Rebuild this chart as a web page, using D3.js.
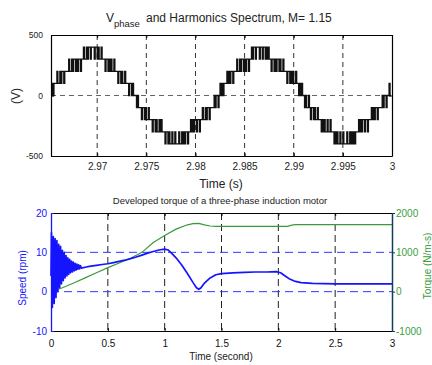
<!DOCTYPE html>
<html><head><meta charset="utf-8">
<script src="https://cdn.jsdelivr.net/npm/d3@7"></script>
<style>
html,body{margin:0;padding:0;background:#fff;}
svg{display:block;font-family:"Liberation Sans",Arial,Helvetica,sans-serif;}
</style></head><body>
<svg id="c" width="432" height="365"></svg>
<script>
// ---------- DATA ----------
// Top chart: phase voltage samples (levels x100 V), uniform sampling from vStart with step vStep
const vStart = 2.9653, vStep = 0.0001;
const vLevels = [
 0,1,0,1,1,
 1,2,1,1,2,1,2,2,1,2,2,
 2,2,3,2,2,3,2,3,3,2,3,2,3,3,2,3,
 3,4,3,3,4,3,4,4,3,4,4,4,3,4,4,3,4,3,3,4,3,
 3,3,2,3,3,2,3,2,3,2,2,3,2,2,
 2,1,2,2,1,2,1,1,2,1,1,
 1,0,1,1,0,1,0,0,
 0,-1,0,-1,-1,
 -1,-2,-1,-1,-2,-1,-2,-2,-1,-2,-2,
 -2,-3,-2,-2,-3,-2,-3,-3,-2,-3,-2,-3,-3,
 -3,-4,-3,-3,-4,-3,-4,-4,-3,-4,-4,-3,-4,-4,-4,-3,-4,-4,-3,-4,-3,-4,-3,-3,-4,
 -3,-3,-2,-3,-2,-3,-2,-2,-3,-2,-2,-3,-2,
 -2,-1,-2,-2,-1,-2,-1,-1,-2,-1,-1,-1,
 -1,0,-1,0,0,-1,
 0,1,0,1,0,1,1,
 1,2,1,2,1,2,2,1,2,2,
 2,3,2,2,3,2,3,3,2,3,2,3,3,2,3,
 3,4,3,4,4,3,4,4,4,3,4,4,3,4,4,3,4,3,4,3,
 3,2,3,3,2,3,2,3,3,2,3,2,2,3,2,2,
 2,1,2,2,1,2,1,2,1,1,2,1,
 1,0,1,0,1,0,
 0,-1,0,-1,-1,0,
 -1,-2,-1,-1,-2,-1,-2,-2,-1,-2,-2,
 -2,-3,-2,-3,-2,-3,-3,-2,-3,-3,-2,-3,-3,
 -3,-4,-3,-4,-3,-4,-4,-3,-4,-4,-3,-4,-4,-4,-3,-4,-4,-3,-4,-3,-4,-3,-4,-3,-3,
 -3,-2,-3,-2,-3,-2,-2,-3,-2,-2,-3,-2,-2,
 -2,-1,-2,-1,-2,-1,-1,-2,-1,-1,-1,
 -1,0,-1,0,0,-1,0,0,1,0,0
];
const topXTicks = [2.97, 2.975, 2.98, 2.985, 2.99, 2.995, 3];
const topYTicks = [-500, 0, 500];

// Bottom chart
const speedT = [0,0.004,0.012,0.020,0.028,0.036,0.044,0.052,0.060,0.068,0.076,0.084,0.092,0.100,0.108,0.116,0.124,0.132,0.140,0.148,0.156,0.164,0.172,0.180,0.188,0.196,0.204,0.212,0.220,0.228,0.236,0.244,0.252,0.260,0.268,
 0.30,0.35,0.40,0.45,0.50,0.55,0.60,0.65,0.70,0.75,0.80,0.85,0.90,0.95,1.00,1.03,1.06,1.10,1.15,1.20,1.25,1.28,1.30,1.32,1.35,1.40,1.45,1.50,1.60,1.70,1.80,1.90,1.98,2.02,2.06,2.10,2.15,2.20,2.30,2.50,2.75,3.00];
const speedV = [4,15,-4,14,-3,13.5,-1.5,13,0,12,1,11.5,2,10.5,2.8,10,3.5,9.2,4,8.6,4.4,8.2,4.8,7.8,5,7.5,5.3,7.2,5.5,7,5.7,6.8,5.8,6.6,6,
 6.2,6.5,6.7,6.9,7.1,7.4,7.7,8.0,8.4,8.8,9.3,9.8,10.2,10.6,10.8,10.6,9.8,8.6,6.8,4.6,2.3,1.0,0.6,1.0,2.2,3.5,4.3,4.6,4.8,4.9,5.0,5.0,5.1,4.8,4.0,3.2,2.6,2.3,2.1,2.0,2.0,2.0];
const torqueT = [0,0.1,0.2,0.3,0.4,0.5,0.6,0.7,0.8,0.9,1.0,1.1,1.2,1.25,1.3,1.35,1.4,1.45,1.5,2.08,2.12,2.15,3.0];
const torqueV = [0,100,220,350,480,610,730,850,1000,1250,1430,1590,1700,1730,1735,1700,1670,1660,1660,1660,1690,1705,1705];
const botXTicks = [0,0.5,1,1.5,2,2.5,3];
const speedTicks = [-10,0,10,20];
const torqueTicks = [-1000,0,1000,2000];

// ---------- DRAW ----------
const svg = d3.select("#c");
const FONT = "'Liberation Sans',Arial,Helvetica,sans-serif";

// ===== Top chart =====
const L = 51, R = 392, T1 = 35, B1 = 156;
const xT = d3.scaleLinear().domain([2.9653, 3.0]).range([L, R]);
const yT = d3.scaleLinear().domain([-500, 500]).range([B1, T1]);

const gTop = svg.append("g");
gTop.selectAll(".vg").data(topXTicks.filter(d => d < 3)).enter().append("line")
  .attr("x1", d => xT(d)).attr("x2", d => xT(d)).attr("y1", T1).attr("y2", B1)
  .attr("stroke", "#333").attr("stroke-width", 1).attr("stroke-dasharray", "5,4");
gTop.append("line").attr("x1", L).attr("x2", R).attr("y1", yT(0)).attr("y2", yT(0))
  .attr("stroke", "#666").attr("stroke-width", 1).attr("stroke-dasharray", "5,4");

const vData = vLevels.map((v, i) => [vStart + i * vStep, v * 100]);
gTop.append("path").datum(vData)
  .attr("d", d3.line().curve(d3.curveStepAfter).x(d => xT(d[0])).y(d => yT(d[1])))
  .attr("fill", "none").attr("stroke", "#111").attr("stroke-width", 1.3);

const axTB = gTop.append("g").attr("transform", `translate(0,${B1})`)
  .call(d3.axisBottom(xT).tickValues(topXTicks).tickFormat(d3.format("")).tickSizeInner(-3).tickSizeOuter(0).tickPadding(7));
const axTT = gTop.append("g").attr("transform", `translate(0,${T1})`)
  .call(d3.axisTop(xT).tickValues(topXTicks).tickFormat("").tickSizeInner(-3).tickSizeOuter(0));
const axTL = gTop.append("g").attr("transform", `translate(${L},0)`)
  .call(d3.axisLeft(yT).tickValues(topYTicks).tickSizeInner(-3).tickSizeOuter(0).tickPadding(8));
const axTR = gTop.append("g").attr("transform", `translate(${R},0)`)
  .call(d3.axisRight(yT).tickValues(topYTicks).tickFormat("").tickSizeInner(-3).tickSizeOuter(0));
[axTB, axTT, axTL, axTR].forEach(a => {
  a.select(".domain").attr("stroke", "#000").attr("stroke-width", 1.2);
  a.selectAll(".tick line").attr("stroke", "#000");
  a.selectAll("text").attr("fill", "#222").style("font-family", FONT);
});
axTB.selectAll("text").style("font-size", "10px");
axTL.selectAll("text").style("font-size", "8.5px").text(d => String(d));

const tt = svg.append("text").attr("x", 106).attr("y", 22).style("font-family", FONT).style("font-size", "12px").attr("fill", "#222");
tt.append("tspan").text("V");
tt.append("tspan").attr("dy", 5).style("font-size", "9.5px").text("phase");
tt.append("tspan").attr("x", 146).attr("dy", -5).text("and Harmonics Spectrum, M= 1.15");
svg.append("text").attr("x", 221).attr("y", 188).attr("text-anchor", "middle")
  .style("font-family", FONT).style("font-size", "12px").attr("fill", "#222").text("Time (s)");
svg.append("text").attr("transform", "translate(20,96) rotate(-90)").attr("text-anchor", "middle")
  .style("font-family", FONT).style("font-size", "12px").attr("fill", "#222").text("(V)");

// ===== Bottom chart =====
const T2 = 213, B2 = 331;
const xB = d3.scaleLinear().domain([0, 3]).range([L, R]);
const yS = d3.scaleLinear().domain([-10, 20]).range([B2, T2]);
const yQ = d3.scaleLinear().domain([-1000, 2000]).range([B2, T2]);
const BLUE = "#1414ff", GREEN = "#3a9a3a", GREENT = "#3aa03a";

const gBot = svg.append("g");
gBot.selectAll(".vg2").data(botXTicks.filter(d => d > 0 && d < 3)).enter().append("line")
  .attr("x1", d => xB(d)).attr("x2", d => xB(d)).attr("y1", T2).attr("y2", B2)
  .attr("stroke", "#222").attr("stroke-width", 1).attr("stroke-dasharray", "7,4");
gBot.selectAll(".hg2").data([0, 10]).enter().append("line")
  .attr("x1", L).attr("x2", R).attr("y1", d => yS(d)).attr("y2", d => yS(d))
  .attr("stroke", "#3535ff").attr("stroke-width", 1).attr("stroke-dasharray", "8,5");

gBot.append("path").datum(torqueT.map((t, i) => [t, torqueV[i]]))
  .attr("d", d3.line().x(d => xB(d[0])).y(d => yQ(d[1])))
  .attr("fill", "none").attr("stroke", GREEN).attr("stroke-width", 1.2);
gBot.append("path").datum(speedT.map((t, i) => [t, speedV[i]]))
  .attr("d", d3.line().x(d => xB(d[0])).y(d => yS(d[1])))
  .attr("fill", "none").attr("stroke", BLUE).attr("stroke-width", 1.7).attr("stroke-linejoin", "round");

const axBB = gBot.append("g").attr("transform", `translate(0,${B2})`)
  .call(d3.axisBottom(xB).tickValues(botXTicks).tickFormat(d3.format("")).tickSizeInner(-3).tickSizeOuter(0).tickPadding(9));
const axBT = gBot.append("g").attr("transform", `translate(0,${T2})`)
  .call(d3.axisTop(xB).tickValues(botXTicks).tickFormat("").tickSizeInner(-3).tickSizeOuter(0));
const axBL = gBot.append("g").attr("transform", `translate(${L},0)`)
  .call(d3.axisLeft(yS).tickValues(speedTicks).tickFormat(d => String(d)).tickSizeInner(-3).tickSizeOuter(0).tickPadding(4));
const axBR = gBot.append("g").attr("transform", `translate(${R},0)`)
  .call(d3.axisRight(yQ).tickValues(torqueTicks).tickFormat(d => String(d)).tickSizeInner(3).tickSizeOuter(0).tickPadding(1));
[axBB, axBT].forEach(a => { a.select(".domain").attr("stroke", "#000").attr("stroke-width", 1.2); a.selectAll(".tick line").attr("stroke", "#000"); });
axBB.selectAll("text").attr("fill", "#111").style("font-family", FONT).style("font-size", "10px");
axBL.select(".domain").attr("stroke", BLUE).attr("stroke-width", 1.3);
axBL.selectAll(".tick line").attr("stroke", BLUE);
axBL.selectAll("text").attr("fill", BLUE).style("font-family", FONT).style("font-size", "10px");
axBR.select(".domain").attr("stroke", "#0e3f5c").attr("stroke-width", 1.5);
axBR.selectAll(".tick line").attr("stroke", "#0e3f5c");
axBR.selectAll("text").attr("fill", GREENT).style("font-family", FONT).style("font-size", "10px");

svg.append("text").attr("x", 220).attr("y", 204).attr("text-anchor", "middle")
  .style("font-family", FONT).style("font-size", "9.5px").attr("fill", "#222").text("Developed torque of a three-phase induction motor");
svg.append("text").attr("x", 221).attr("y", 360).attr("text-anchor", "middle")
  .style("font-family", FONT).style("font-size", "10px").attr("fill", "#222").text("Time (second)");
svg.append("text").attr("transform", "translate(26,278) rotate(-90)").attr("text-anchor", "middle")
  .style("font-family", FONT).style("font-size", "10px").attr("fill", BLUE).text("Speed (rpm)");
svg.append("text").attr("transform", "translate(431,266) rotate(-90)").attr("text-anchor", "middle")
  .style("font-family", FONT).style("font-size", "10px").attr("fill", GREENT).text("Torque (N/m-s)");
</script>
</body></html>
